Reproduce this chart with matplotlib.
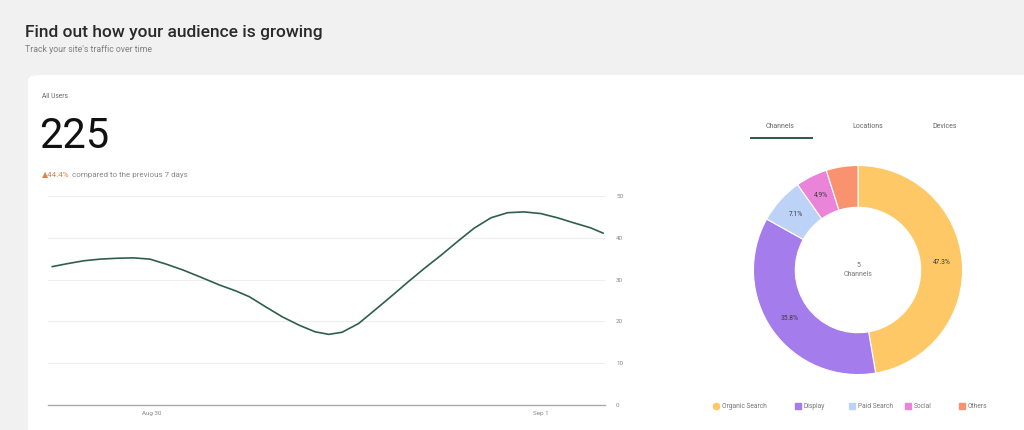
import matplotlib.pyplot as plt
from matplotlib.patches import FancyBboxPatch, Rectangle
import numpy as np

plt.rcParams['font.family'] = ['Roboto', 'DejaVu Sans']

# donnees (jour 0 = Aug 30)
jours = [-0.509, -0.432, -0.347, -0.262, -0.179, -0.092, -0.007, 0.077, 0.163,
         0.248, 0.351, 0.434, 0.504, 0.587, 0.673, 0.759, 0.842, 0.912, 0.980,
         1.065, 1.148, 1.235, 1.320, 1.403, 1.490, 1.575, 1.658, 1.745, 1.830,
         1.913, 2.000, 2.085, 2.168, 2.255, 2.321]
utilisateurs = [33.1, 33.8, 34.5, 34.9, 35.1, 35.2, 34.9, 33.7, 32.3,
                30.7, 28.7, 27.3, 25.9, 23.5, 21.1, 19.1, 17.5, 16.9, 17.4,
                19.5, 22.7, 26.1, 29.5, 32.7, 35.9, 39.2, 42.3, 44.8, 46.0,
                46.2, 45.8, 44.8, 43.6, 42.4, 41.1]
ticks_x = [0, 2]
labels_x = ['Aug 30', 'Sep 1']
ticks_y = [0, 10, 20, 30, 40, 50]

canaux = ['Organic Search', 'Display', 'Paid Search', 'Social', 'Others']
parts = [47.3, 35.8, 7.1, 4.9, 4.9]
etiquettes = ['47.3%', '35.8%', '7.1%', '4.9%', '']
couleurs = ['#fdc865', '#a57ceb', '#bcd3f7', '#ea84d8', '#f8926f']

onglets = ['Channels', 'Locations', 'Devices']

W, H = 1024, 430
fig = plt.figure(figsize=(W / 100, H / 100), dpi=100)
fig.patch.set_facecolor('#f1f1f1')

def px(x, y):      # pixels -> fraction de figure
    return x / W, 1 - y / H

# carte blanche (zorder negatif sinon elle cache les axes)
carte = FancyBboxPatch(px(28, 460), (1100 - 28) / W, (460 - 75) / H,
                       boxstyle='round,pad=0,rounding_size=0.012',
                       transform=fig.transFigure, facecolor='white',
                       edgecolor='none', zorder=-10)
fig.patches.append(carte)

# titres
fig.text(*px(25, 32), 'Find out how your audience is growing', fontsize=12.5,
         color='#2a2a2a', va='center', weight='medium')
fig.text(*px(25, 50), "Track your site's traffic over time", fontsize=6.3,
         color='#808080', va='center')
fig.text(*px(42, 97), 'All Users', fontsize=4.8, color='#666666', va='center')
fig.text(*px(39, 137), '225', fontsize=30, color='#111111', va='center')
t = fig.text(*px(42, 175), '\u25b244.4%', fontsize=5.8, color='#d9844a', va='center')
ax0 = fig.add_axes([0, 0, 0.01, 0.01])
ax0.axis('off')
ax0.annotate('compared to the previous 7 days', xy=(1, 0.5), xycoords=t,
             xytext=(1.5, 0), textcoords='offset points', fontsize=5.8,
             color='#888888', va='center')

# courbe
ax = fig.add_axes([48 / W, 1 - 405 / H, (605 - 48) / W, (405 - 196) / H])
ax.plot(jours, utilisateurs, color='#2f5e51', lw=1.2, solid_capstyle='round',
        solid_joinstyle='round')
ax.set_xlim(-0.53, 2.33)
ax.set_ylim(0, 50)
ax.set_yticks(ticks_y)
ax.yaxis.tick_right()
ax.set_xticks(ticks_x)
ax.set_xticklabels(labels_x)
ax.tick_params(axis='both', length=0, labelsize=4.5, labelcolor='#888888')
ax.tick_params(axis='y', pad=8)
ax.tick_params(axis='x', pad=4)
for s in ['top', 'right', 'left']:
    ax.spines[s].set_visible(False)
ax.spines['bottom'].set_color('#aaaaaa')
ax.spines['bottom'].set_linewidth(1.0)
ax.grid(axis='y', color='#eeeeee', lw=0.8)
ax.set_axisbelow(True)
ax.patch.set_alpha(0)

# onglets
pos_onglets = [780, 868, 945]
for nom, x in zip(onglets, pos_onglets):
    fig.text(*px(x, 126), nom, fontsize=5, color='#666666', ha='center', va='center')
fig.add_artist(Rectangle(px(750, 139), 63 / W, 2 / H, transform=fig.transFigure,
                         facecolor='#2f5e51', edgecolor='none'))

# donut
axp = fig.add_axes([(858 - 115) / W, (430 - 270 - 115) / H, 230 / W, 230 / H])
axp.pie(parts, colors=couleurs, startangle=90, counterclock=False,
        wedgeprops=dict(width=0.4, edgecolor='white', linewidth=0.8),
        labels=etiquettes, labeldistance=0.8,
        textprops=dict(fontsize=4.8, color='#3a3a3a', ha='center', va='center'))
axp.set_xlim(-1.1, 1.1)
axp.set_ylim(-1.1, 1.1)
axp.set_aspect('equal')
axp.text(0, 0, '5\nChannels', fontsize=5, color='#777777', ha='center',
         va='center', linespacing=1.4)

# legende
pos_leg = [716, 798, 852, 908, 962]
for i, (nom, x) in enumerate(zip(canaux, pos_leg)):
    marque = 'o' if i == 0 else 's'
    fig.add_artist(plt.Line2D([x / W], [1 - 406 / H], marker=marque, markersize=4.5,
                              color=couleurs[i], transform=fig.transFigure, lw=0))
    fig.text((x + 6) / W, 1 - 406 / H, nom, fontsize=4.8, color='#777777', va='center')

fig.savefig('out.png', dpi=100, facecolor=fig.get_facecolor())
